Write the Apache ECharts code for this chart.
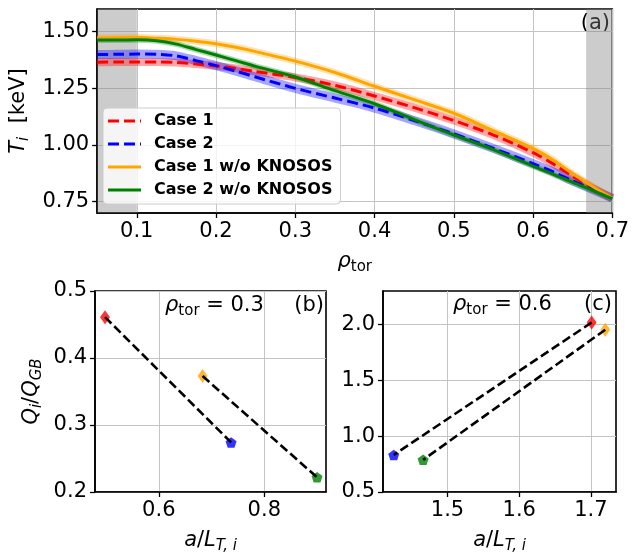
<!DOCTYPE html>
<html><head><meta charset="utf-8">
<script src="https://cdn.jsdelivr.net/npm/echarts@6/dist/echarts.min.js"></script>
<style>html,body{margin:0;padding:0;background:#fff}#c{width:632px;height:555px}</style>
</head><body><div id="c"></div>
<script>
// ---------- data: panel (a) ----------
const rho       = [0.05, 0.075, 0.1, 0.125, 0.15, 0.175, 0.2, 0.225, 0.25, 0.3, 0.35, 0.4, 0.45, 0.5, 0.55, 0.6, 0.625, 0.65, 0.675, 0.7];
const tiCase1   = [1.365, 1.366, 1.366, 1.366, 1.364, 1.357, 1.349, 1.338, 1.324, 1.298, 1.263, 1.216, 1.165, 1.108, 1.044, 0.966, 0.918, 0.862, 0.811, 0.765];
const tiCase2   = [1.399, 1.400, 1.401, 1.400, 1.393, 1.372, 1.350, 1.326, 1.300, 1.250, 1.207, 1.163, 1.108, 1.049, 0.985, 0.918, 0.882, 0.842, 0.804, 0.765];
const tiCase1wo = [1.473, 1.474, 1.475, 1.471, 1.466, 1.458, 1.447, 1.431, 1.412, 1.370, 1.320, 1.259, 1.200, 1.140, 1.063, 0.985, 0.935, 0.873, 0.817, 0.766];
const tiCase2wo = [1.463, 1.463, 1.464, 1.460, 1.445, 1.421, 1.397, 1.372, 1.347, 1.300, 1.240, 1.182, 1.112, 1.044, 0.980, 0.907, 0.872, 0.835, 0.800, 0.763];
const seriesNames = ['Case 1', 'Case 2', 'Case 1 w/o KNOSOS', 'Case 2 w/o KNOSOS'];
const shadedRegions = [[0.05, 0.1], [0.667, 0.7]];
const aXRange = [0.05, 0.7], aYRange = [0.70, 1.60];
const aXTicks = [0.1, 0.2, 0.3, 0.4, 0.5, 0.6, 0.7];
const aYTicks = [0.75, 1.00, 1.25, 1.50];
// ---------- data: panels (b), (c) ----------
const bALT = [0.498, 0.737, 0.683, 0.900];
const bQ   = [0.461, 0.274, 0.373, 0.222];
const cALT = [1.701, 1.425, 1.720, 1.466];
const cQ   = [2.018, 0.832, 1.953, 0.788];
const pairs = [[0, 1], [2, 3]];
const bXRange = [0.479, 0.917], bYRange = [0.2, 0.5];
const cXRange = [1.41, 1.735], cYRange = [0.5, 2.3];
const bXTicks = [0.6, 0.8], bYTicks = [0.2, 0.3, 0.4, 0.5];
const cXTicks = [1.5, 1.6, 1.7], cYTicks = [0.5, 1.0, 1.5, 2.0];
const bRho = '0.3', cRho = '0.6';

// ---------- styles ----------
const colors = ['#ff0000', '#0000ff', '#ffa500', '#008000'];
const dashed = [true, true, false, false];
const bandW = [8, 9, 7, 6];
const bandOp = [0.35, 0.35, 0.3, 0.3];
const pent = 'path://M0,-1L0.951,-0.309L0.588,0.809L-0.588,0.809L-0.951,-0.309Z';
const markers = ['diamond', pent, 'diamond', pent];
const markerSize = [[10, 14], [11, 10.5], [10, 14], [11, 10.5]];
const dashIcon = 'path://M0,0h11v3h-11zM16,0h11v3h-11zM32,0h1v3h-1z';
const solidIcon = 'path://M0,0h33v3h-33z';
const FF = 'DejaVu Sans';
const FS = 21;
const rich = {
  it: {fontStyle: 'italic', fontSize: FS, fontFamily: FF, lineHeight: 26, color: '#000'},
  r: {fontSize: FS, fontFamily: FF, lineHeight: 26, color: '#000'},
  sub: {fontSize: 15, fontFamily: FF, lineHeight: 14, verticalAlign: 'bottom', color: '#000'},
  isub: {fontSize: 15, fontStyle: 'italic', fontFamily: FF, lineHeight: 14, verticalAlign: 'bottom', color: '#000'}
};

function axis(gridIndex, range, ticks, dec, extra) {
  return Object.assign({
    type: 'value', gridIndex, min: range[0], max: range[1],
    axisLine: {show: true, onZero: false, lineStyle: {color: '#000', width: 1.6}},
    axisTick: {show: true, inside: false, length: 5, lineStyle: {color: '#000', width: 1.3}, customValues: ticks},
    axisLabel: {customValues: ticks, formatter: v => Number(v).toFixed(dec), color: '#000', fontSize: FS, fontFamily: FF, margin: 8},
    splitLine: {show: true, lineStyle: {color: '#c4c4c4', width: 1}},
    nameTextStyle: {rich: rich, color: '#000'}
  }, extra || {});
}

const topSeries = [tiCase1, tiCase2, tiCase1wo, tiCase2wo];
const series = [];
series.push({
  type: 'line', name: 'shade', xAxisIndex: 0, yAxisIndex: 0, data: [], symbol: 'none', silent: true,
  markArea: {silent: true, itemStyle: {color: 'rgba(128,128,128,0.4)'},
    data: shadedRegions.map(r => [{xAxis: r[0]}, {xAxis: r[1]}])}
});
topSeries.forEach((arr, i) => {
  series.push({
    type: 'line', name: 'band' + i, xAxisIndex: 0, yAxisIndex: 0, symbol: 'none', smooth: 0.3,
    data: rho.map((x, k) => [x, arr[k]]),
    lineStyle: {color: colors[i], width: bandW[i], opacity: bandOp[i]}, z: 2, silent: true
  });
});
topSeries.forEach((arr, i) => {
  series.push({
    type: 'line', name: seriesNames[i], xAxisIndex: 0, yAxisIndex: 0, symbol: 'none', smooth: 0.3,
    data: rho.map((x, k) => [x, arr[k]]),
    itemStyle: {color: colors[i]},
    lineStyle: {color: colors[i], width: 3, type: dashed[i] ? [11, 5] : 'solid', cap: 'butt'}, z: 3
  });
});
[[bALT, bQ, 1], [cALT, cQ, 2]].forEach(([xs, ys, g]) => {
  series.push({
    type: 'scatter', name: 'pts' + g, xAxisIndex: g, yAxisIndex: g, z: 2,
    data: xs.map((x, k) => ({value: [x, ys[k]], symbol: markers[k], symbolSize: markerSize[k], itemStyle: {color: colors[k]}}))
  });
  pairs.forEach((p, j) => {
    series.push({
      type: 'line', name: 'pair' + g + j, xAxisIndex: g, yAxisIndex: g, symbol: 'none', z: 4,
      data: p.map(k => [xs[k], ys[k]]),
      lineStyle: {color: '#000', width: 2.6, type: [9, 4]}
    });
  });
});

const chart = echarts.init(document.getElementById('c'), null, {renderer: 'canvas'});
chart.setOption({
  backgroundColor: '#fff',
  animation: false,
  grid: [
    {left: 95, top: 9, right: 16, bottom: 342, show: true, borderColor: '#000', borderWidth: 1.6, backgroundColor: 'transparent'},
    {left: 95, top: 291, right: 306, bottom: 60, show: true, borderColor: '#000', borderWidth: 1.6, backgroundColor: 'transparent'},
    {left: 383, top: 291, right: 16, bottom: 60, show: true, borderColor: '#000', borderWidth: 1.6, backgroundColor: 'transparent'}
  ],
  xAxis: [
    axis(0, aXRange, aXTicks, 1, {name: '{it|ρ}{sub|tor}', nameLocation: 'middle', nameGap: 36}),
    axis(1, bXRange, bXTicks, 1, {name: '{it|a}{r|/}{it|L}{isub|T, i}', nameLocation: 'middle', nameGap: 36}),
    axis(2, cXRange, cXTicks, 1, {name: '{it|a}{r|/}{it|L}{isub|T, i}', nameLocation: 'middle', nameGap: 36})
  ],
  yAxis: [
    axis(0, aYRange, aYTicks, 2, {name: '{it|T}{isub|i}{r|  [keV]}', nameLocation: 'middle', nameGap: 64, nameRotate: 90}),
    axis(1, bYRange, bYTicks, 1, {name: '{it|Q}{isub|i}{r|/}{it|Q}{isub|GB}', nameLocation: 'middle', nameGap: 50, nameRotate: 90}),
    axis(2, cYRange, cYTicks, 1, {})
  ],
  legend: {
    data: seriesNames.map((n, i) => ({name: n, icon: dashed[i] ? dashIcon : solidIcon})),
    orient: 'vertical', left: 103, top: 108, padding: [4, 8, 5, 5],
    itemWidth: 33, itemHeight: 3, itemGap: 5,
    textStyle: {fontSize: 16, fontWeight: 'bold', fontFamily: FF, color: '#000', lineHeight: 18, padding: [0, 0, 0, 8]},
    backgroundColor: 'rgba(255,255,255,0.8)', borderColor: '#cccccc', borderWidth: 1, borderRadius: 4
  },
  graphic: [
    {type: 'text', x: 610, y: 24, style: {text: '(a)', font: FS + 'px "DejaVu Sans"', fill: '#000', align: 'right', verticalAlign: 'middle'}},
    {type: 'text', x: 324, y: 306, style: {text: '(b)', font: FS + 'px "DejaVu Sans"', fill: '#000', align: 'right', verticalAlign: 'middle'}},
    {type: 'text', x: 612, y: 305, style: {text: '(c)', font: FS + 'px "DejaVu Sans"', fill: '#000', align: 'right', verticalAlign: 'middle'}},
    {type: 'text', x: 165, y: 306, style: {text: '{it|ρ}{sub|tor}{r| = ' + bRho + '}', rich: rich, align: 'left', verticalAlign: 'middle'}},
    {type: 'text', x: 453, y: 305, style: {text: '{it|ρ}{sub|tor}{r| = ' + cRho + '}', rich: rich, align: 'left', verticalAlign: 'middle'}}
  ],
  series: series
});
</script></body></html>
